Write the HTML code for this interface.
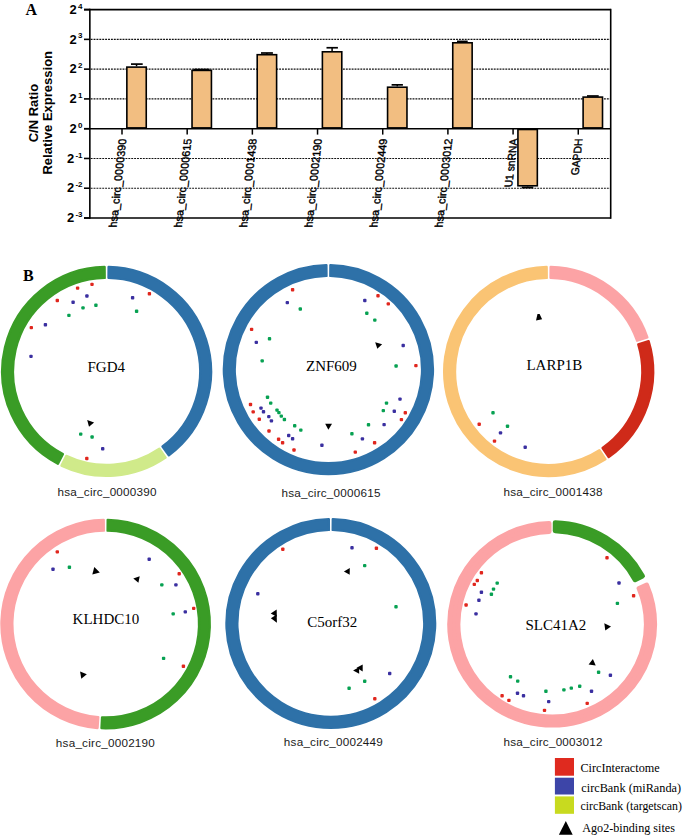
<!DOCTYPE html>
<html><head><meta charset="utf-8"><title>Figure</title>
<style>
html,body{margin:0;padding:0;background:#fff;}
body{width:685px;height:836px;overflow:hidden;font-family:"Liberation Sans", sans-serif;}
svg{display:block;}
</style></head>
<body>
<svg width="685" height="836" viewBox="0 0 685 836">
<rect x="0" y="0" width="685" height="836" fill="#fff"/>
<line x1="90.65" y1="39.37" x2="609.90" y2="39.37" stroke="#111" stroke-width="1.15" stroke-dasharray="1.9 1"/>
<line x1="90.65" y1="69.14" x2="609.90" y2="69.14" stroke="#111" stroke-width="1.15" stroke-dasharray="1.9 1"/>
<line x1="90.65" y1="98.91" x2="609.90" y2="98.91" stroke="#111" stroke-width="1.15" stroke-dasharray="1.9 1"/>
<line x1="90.65" y1="158.46" x2="609.90" y2="158.46" stroke="#111" stroke-width="1.15" stroke-dasharray="1.9 1"/>
<line x1="90.65" y1="188.23" x2="609.90" y2="188.23" stroke="#111" stroke-width="1.15" stroke-dasharray="1.9 1"/>
<rect x="126.85" y="67.10" width="19.40" height="60.79" fill="#f2be81" stroke="#000" stroke-width="1.6"/>
<line x1="131.00" y1="64.10" x2="142.70" y2="64.10" stroke="#000" stroke-width="1.7"/>
<line x1="136.55" y1="64.10" x2="136.55" y2="66.30" stroke="#000" stroke-width="1.5"/>
<rect x="192.03" y="70.40" width="19.40" height="57.49" fill="#f2be81" stroke="#000" stroke-width="1.6"/>
<line x1="193.70" y1="69.50" x2="209.40" y2="69.50" stroke="#000" stroke-width="1.7"/>
<line x1="201.73" y1="69.50" x2="201.73" y2="69.60" stroke="#000" stroke-width="1.5"/>
<rect x="257.21" y="54.70" width="19.40" height="73.19" fill="#f2be81" stroke="#000" stroke-width="1.6"/>
<line x1="261.00" y1="53.00" x2="272.90" y2="53.00" stroke="#000" stroke-width="1.7"/>
<line x1="266.91" y1="53.00" x2="266.91" y2="53.90" stroke="#000" stroke-width="1.5"/>
<rect x="322.39" y="51.80" width="19.40" height="76.09" fill="#f2be81" stroke="#000" stroke-width="1.6"/>
<line x1="326.50" y1="47.75" x2="337.90" y2="47.75" stroke="#000" stroke-width="1.7"/>
<line x1="332.09" y1="47.75" x2="332.09" y2="51.00" stroke="#000" stroke-width="1.5"/>
<rect x="387.57" y="87.20" width="19.40" height="40.69" fill="#f2be81" stroke="#000" stroke-width="1.6"/>
<line x1="391.60" y1="84.85" x2="402.90" y2="84.85" stroke="#000" stroke-width="1.7"/>
<line x1="397.27" y1="84.85" x2="397.27" y2="86.40" stroke="#000" stroke-width="1.5"/>
<rect x="452.75" y="42.80" width="19.40" height="85.09" fill="#f2be81" stroke="#000" stroke-width="1.6"/>
<line x1="457.00" y1="41.40" x2="467.70" y2="41.40" stroke="#000" stroke-width="1.7"/>
<line x1="462.45" y1="41.40" x2="462.45" y2="42.00" stroke="#000" stroke-width="1.5"/>
<rect x="517.93" y="129.49" width="19.40" height="56.31" fill="#f2be81" stroke="#000" stroke-width="1.6"/>
<line x1="521.80" y1="187.50" x2="533.30" y2="187.50" stroke="#000" stroke-width="1.9"/>
<line x1="527.63" y1="187.50" x2="527.63" y2="186.60" stroke="#000" stroke-width="1.5"/>
<rect x="583.11" y="97.10" width="19.40" height="30.79" fill="#f2be81" stroke="#000" stroke-width="1.6"/>
<line x1="587.00" y1="96.00" x2="598.70" y2="96.00" stroke="#000" stroke-width="1.7"/>
<line x1="592.81" y1="96.00" x2="592.81" y2="96.30" stroke="#000" stroke-width="1.5"/>
<line x1="84" y1="9.60" x2="610.70" y2="9.60" stroke="#000" stroke-width="1.6"/>
<line x1="84" y1="218.00" x2="610.70" y2="218.00" stroke="#000" stroke-width="1.6"/>
<line x1="84" y1="128.69" x2="610.70" y2="128.69" stroke="#000" stroke-width="1.6"/>
<line x1="89.85" y1="8.80" x2="89.85" y2="218.80" stroke="#000" stroke-width="1.6"/>
<line x1="610.70" y1="8.80" x2="610.70" y2="218.80" stroke="#000" stroke-width="1.6"/>
<line x1="84" y1="218.00" x2="89.85" y2="218.00" stroke="#000" stroke-width="1.6"/>
<text x="82.5" y="222.20" text-anchor="end" font-family='"Liberation Sans", sans-serif' font-weight="bold" font-size="13">2<tspan dx="1.2" dy="-5.1" font-size="8">-3</tspan></text>
<line x1="84" y1="188.23" x2="89.85" y2="188.23" stroke="#000" stroke-width="1.6"/>
<text x="82.5" y="192.43" text-anchor="end" font-family='"Liberation Sans", sans-serif' font-weight="bold" font-size="13">2<tspan dx="1.2" dy="-5.1" font-size="8">-2</tspan></text>
<line x1="84" y1="158.46" x2="89.85" y2="158.46" stroke="#000" stroke-width="1.6"/>
<text x="82.5" y="162.66" text-anchor="end" font-family='"Liberation Sans", sans-serif' font-weight="bold" font-size="13">2<tspan dx="1.2" dy="-5.1" font-size="8">-1</tspan></text>
<line x1="84" y1="128.69" x2="89.85" y2="128.69" stroke="#000" stroke-width="1.6"/>
<text x="82.5" y="132.89" text-anchor="end" font-family='"Liberation Sans", sans-serif' font-weight="bold" font-size="13">2<tspan dx="1.2" dy="-5.1" font-size="8">0</tspan></text>
<line x1="84" y1="98.91" x2="89.85" y2="98.91" stroke="#000" stroke-width="1.6"/>
<text x="82.5" y="103.11" text-anchor="end" font-family='"Liberation Sans", sans-serif' font-weight="bold" font-size="13">2<tspan dx="1.2" dy="-5.1" font-size="8">1</tspan></text>
<line x1="84" y1="69.14" x2="89.85" y2="69.14" stroke="#000" stroke-width="1.6"/>
<text x="82.5" y="73.34" text-anchor="end" font-family='"Liberation Sans", sans-serif' font-weight="bold" font-size="13">2<tspan dx="1.2" dy="-5.1" font-size="8">2</tspan></text>
<line x1="84" y1="39.37" x2="89.85" y2="39.37" stroke="#000" stroke-width="1.6"/>
<text x="82.5" y="43.57" text-anchor="end" font-family='"Liberation Sans", sans-serif' font-weight="bold" font-size="13">2<tspan dx="1.2" dy="-5.1" font-size="8">3</tspan></text>
<line x1="84" y1="9.60" x2="89.85" y2="9.60" stroke="#000" stroke-width="1.6"/>
<text x="82.5" y="13.80" text-anchor="end" font-family='"Liberation Sans", sans-serif' font-weight="bold" font-size="13">2<tspan dx="1.2" dy="-5.1" font-size="8">4</tspan></text>
<line x1="122.00" y1="128.69" x2="122.00" y2="134.6" stroke="#000" stroke-width="1.5"/>
<line x1="187.18" y1="128.69" x2="187.18" y2="134.6" stroke="#000" stroke-width="1.5"/>
<line x1="252.36" y1="128.69" x2="252.36" y2="134.6" stroke="#000" stroke-width="1.5"/>
<line x1="317.54" y1="128.69" x2="317.54" y2="134.6" stroke="#000" stroke-width="1.5"/>
<line x1="382.72" y1="128.69" x2="382.72" y2="134.6" stroke="#000" stroke-width="1.5"/>
<line x1="447.90" y1="128.69" x2="447.90" y2="134.6" stroke="#000" stroke-width="1.5"/>
<line x1="513.08" y1="128.69" x2="513.08" y2="134.6" stroke="#000" stroke-width="1.5"/>
<line x1="578.26" y1="128.69" x2="578.26" y2="134.6" stroke="#000" stroke-width="1.5"/>
<text transform="matrix(0.1089,-0.9900,1,0,126.40,138.60)" text-anchor="end" font-family='"Liberation Sans", sans-serif' font-weight="normal" font-size="11.0" stroke="#000" stroke-width="0.4">hsa_circ_0000390</text>
<text transform="matrix(0.1089,-0.9900,1,0,191.58,138.60)" text-anchor="end" font-family='"Liberation Sans", sans-serif' font-weight="normal" font-size="11.0" stroke="#000" stroke-width="0.4">hsa_circ_0000615</text>
<text transform="matrix(0.1089,-0.9900,1,0,256.76,138.60)" text-anchor="end" font-family='"Liberation Sans", sans-serif' font-weight="normal" font-size="11.0" stroke="#000" stroke-width="0.4">hsa_circ_0001438</text>
<text transform="matrix(0.1089,-0.9900,1,0,321.94,138.60)" text-anchor="end" font-family='"Liberation Sans", sans-serif' font-weight="normal" font-size="11.0" stroke="#000" stroke-width="0.4">hsa_circ_0002190</text>
<text transform="matrix(0.1089,-0.9900,1,0,387.12,138.60)" text-anchor="end" font-family='"Liberation Sans", sans-serif' font-weight="normal" font-size="11.0" stroke="#000" stroke-width="0.4">hsa_circ_0002449</text>
<text transform="matrix(0.1089,-0.9900,1,0,452.30,138.60)" text-anchor="end" font-family='"Liberation Sans", sans-serif' font-weight="normal" font-size="11.0" stroke="#000" stroke-width="0.4">hsa_circ_0003012</text>
<text transform="matrix(0.1034,-0.9400,1,0,517.48,138.60)" text-anchor="end" font-family='"Liberation Sans", sans-serif' font-weight="normal" font-size="11.0" stroke="#000" stroke-width="0.4">U1 snRNA</text>
<text transform="matrix(0.1034,-0.9400,1,0,582.66,138.60)" text-anchor="end" font-family='"Liberation Sans", sans-serif' font-weight="normal" font-size="11.0" stroke="#000" stroke-width="0.4">GAPDH</text>
<text transform="translate(38.4,113.1) rotate(-90)" text-anchor="middle" font-family='"Liberation Sans", sans-serif' font-weight="bold" font-size="13">C/N Ratio</text>
<text transform="translate(51.8,112.75) rotate(-90)" text-anchor="middle" font-family='"Liberation Sans", sans-serif' font-weight="bold" font-size="13">Relative Expression</text>
<text x="25.6" y="14.6" font-family='"Liberation Serif", serif' font-weight="bold" font-size="16">A</text>
<text x="22.9" y="280.7" font-family='"Liberation Serif", serif' font-weight="bold" font-size="16">B</text>
<path d="M108.62,267.07 A104.40,104.40 0 0 1 168.86,455.25 L162.52,446.51 A93.60,93.60 0 0 0 108.53,277.87 Z" fill="#2e71a8" stroke="#2e71a8" stroke-width="2.40" stroke-linejoin="round"/>
<path d="M165.57,457.60 A104.40,104.40 0 0 1 61.50,465.61 L66.28,455.92 A93.60,93.60 0 0 0 159.37,448.76 Z" fill="#d0ea8a" stroke="#d0ea8a" stroke-width="2.40" stroke-linejoin="round"/>
<path d="M57.90,463.79 A104.40,104.40 0 0 1 104.58,267.07 L104.67,277.87 A93.60,93.60 0 0 0 62.82,454.18 Z" fill="#3a9c26" stroke="#3a9c26" stroke-width="2.40" stroke-linejoin="round"/>
<text x="106.30" y="372.00" text-anchor="middle" font-family='"Liberation Serif", serif' font-size="15">FGD4</text>
<text x="107.05" y="496.00" text-anchor="middle" font-family='"Liberation Sans", sans-serif' font-size="11.7" fill="#1a1a1a" textLength="99" lengthAdjust="spacing">hsa_circ_0000390</text>
<path d="M330.42,265.12 A104.50,104.50 0 1 1 326.38,265.12 L326.46,275.92 A93.70,93.70 0 1 0 330.34,275.92 Z" fill="#2e71a8" stroke="#2e71a8" stroke-width="2.40" stroke-linejoin="round"/>
<text x="331.45" y="371.40" text-anchor="middle" font-family='"Liberation Serif", serif' font-size="15">ZNF609</text>
<text x="331.00" y="496.60" text-anchor="middle" font-family='"Liberation Sans", sans-serif' font-size="11.7" fill="#1a1a1a" textLength="99" lengthAdjust="spacing">hsa_circ_0000615</text>
<path d="M550.67,267.07 A104.45,104.45 0 0 1 647.34,337.31 L637.10,340.73 A93.65,93.65 0 0 0 550.59,277.87 Z" fill="#fca3a5" stroke="#fca3a5" stroke-width="2.40" stroke-linejoin="round"/>
<path d="M648.59,341.15 A104.45,104.45 0 0 1 608.72,456.95 L602.61,448.04 A93.65,93.65 0 0 0 638.30,344.41 Z" fill="#cf2a19" stroke="#cf2a19" stroke-width="2.40" stroke-linejoin="round"/>
<path d="M605.37,459.21 A104.45,104.45 0 1 1 546.63,267.07 L546.71,277.87 A93.65,93.65 0 1 0 599.40,450.21 Z" fill="#fac474" stroke="#fac474" stroke-width="2.40" stroke-linejoin="round"/>
<text x="554.35" y="369.60" text-anchor="middle" font-family='"Liberation Serif", serif' font-size="14" textLength="55.8" lengthAdjust="spacingAndGlyphs">LARP1B</text>
<text x="552.90" y="495.60" text-anchor="middle" font-family='"Liberation Sans", sans-serif' font-size="11.7" fill="#1a1a1a" textLength="99" lengthAdjust="spacing">hsa_circ_0001438</text>
<path d="M107.72,519.87 A104.20,104.20 0 1 1 101.54,728.17 L102.09,717.38 A93.40,93.40 0 1 0 107.63,530.67 Z" fill="#3a9c26" stroke="#3a9c26" stroke-width="2.40" stroke-linejoin="round"/>
<path d="M97.51,727.93 A104.20,104.20 0 0 1 103.68,519.87 L103.77,530.67 A93.40,93.40 0 0 0 98.23,717.15 Z" fill="#fca3a5" stroke="#fca3a5" stroke-width="2.40" stroke-linejoin="round"/>
<text x="105.90" y="624.30" text-anchor="middle" font-family='"Liberation Serif", serif' font-size="15">KLHDC10</text>
<text x="105.35" y="746.80" text-anchor="middle" font-family='"Liberation Sans", sans-serif' font-size="11.7" fill="#1a1a1a" textLength="99" lengthAdjust="spacing">hsa_circ_0002190</text>
<path d="M332.82,519.12 A104.30,104.30 0 1 1 328.78,519.12 L328.87,529.92 A93.50,93.50 0 1 0 332.73,529.92 Z" fill="#2e71a8" stroke="#2e71a8" stroke-width="2.40" stroke-linejoin="round"/>
<text x="332.35" y="626.90" text-anchor="middle" font-family='"Liberation Serif", serif' font-size="15">C5orf32</text>
<text x="333.35" y="746.40" text-anchor="middle" font-family='"Liberation Sans", sans-serif' font-size="11.7" fill="#1a1a1a" textLength="99" lengthAdjust="spacing">hsa_circ_0002449</text>
<g transform="translate(552.15,623.85) scale(1,0.9886) translate(-552.15,-623.85)">
<path d="M555.18,521.34 A102.55,102.55 0 0 1 642.58,575.48 L635.08,579.27 A94.15,94.15 0 0 0 555.12,529.75 Z" fill="#3a9c26" stroke="#3a9c26" stroke-width="4.80" stroke-linejoin="round"/>
</g>
<g transform="translate(552.15,624.25) scale(1,0.9848) translate(-552.15,-624.25)">
<path d="M646.65,584.41 A102.55,102.55 0 1 1 549.12,521.74 L549.18,530.15 A94.15,94.15 0 1 0 638.98,587.86 Z" fill="#fca3a5" stroke="#fca3a5" stroke-width="4.80" stroke-linejoin="round"/>
</g>
<text x="555.80" y="629.80" text-anchor="middle" font-family='"Liberation Serif", serif' font-size="15">SLC41A2</text>
<text x="553.05" y="745.70" text-anchor="middle" font-family='"Liberation Sans", sans-serif' font-size="11.7" fill="#1a1a1a" textLength="99" lengthAdjust="spacing">hsa_circ_0003012</text>
<rect x="90.30" y="282.70" width="3.4" height="3.4" rx="1" fill="#e0261d"/>
<rect x="75.90" y="286.40" width="3.4" height="3.4" rx="1" fill="#e0261d"/>
<rect x="85.20" y="294.30" width="3.4" height="3.4" rx="1" fill="#3a2fa0"/>
<rect x="55.60" y="298.80" width="3.4" height="3.4" rx="1" fill="#e0261d"/>
<rect x="71.40" y="300.50" width="3.4" height="3.4" rx="1" fill="#3a2fa0"/>
<rect x="81.30" y="306.20" width="3.4" height="3.4" rx="1" fill="#07a152"/>
<rect x="94.20" y="303.60" width="3.4" height="3.4" rx="1" fill="#07a152"/>
<rect x="67.20" y="313.70" width="3.4" height="3.4" rx="1" fill="#07a152"/>
<rect x="29.60" y="325.90" width="3.4" height="3.4" rx="1" fill="#e0261d"/>
<rect x="43.70" y="323.00" width="3.4" height="3.4" rx="1" fill="#3a2fa0"/>
<rect x="29.30" y="354.70" width="3.4" height="3.4" rx="1" fill="#3a2fa0"/>
<rect x="130.90" y="296.00" width="3.4" height="3.4" rx="1" fill="#3a2fa0"/>
<rect x="147.70" y="292.10" width="3.4" height="3.4" rx="1" fill="#e0261d"/>
<rect x="134.90" y="309.60" width="3.4" height="3.4" rx="1" fill="#07a152"/>
<rect x="79.00" y="432.40" width="3.4" height="3.4" rx="1" fill="#07a152"/>
<rect x="90.40" y="435.30" width="3.4" height="3.4" rx="1" fill="#07a152"/>
<rect x="101.00" y="447.10" width="3.4" height="3.4" rx="1" fill="#3a2fa0"/>
<rect x="85.10" y="456.80" width="3.4" height="3.4" rx="1" fill="#e0261d"/>
<rect x="290.90" y="288.10" width="3.4" height="3.4" rx="1" fill="#e0261d"/>
<rect x="285.60" y="300.90" width="3.4" height="3.4" rx="1" fill="#3a2fa0"/>
<rect x="298.60" y="307.30" width="3.4" height="3.4" rx="1" fill="#07a152"/>
<rect x="249.90" y="327.70" width="3.4" height="3.4" rx="1" fill="#e0261d"/>
<rect x="267.80" y="337.00" width="3.4" height="3.4" rx="1" fill="#07a152"/>
<rect x="254.60" y="340.70" width="3.4" height="3.4" rx="1" fill="#3a2fa0"/>
<rect x="260.50" y="359.20" width="3.4" height="3.4" rx="1" fill="#07a152"/>
<rect x="376.30" y="294.00" width="3.4" height="3.4" rx="1" fill="#e0261d"/>
<rect x="363.10" y="298.80" width="3.4" height="3.4" rx="1" fill="#3a2fa0"/>
<rect x="386.60" y="302.20" width="3.4" height="3.4" rx="1" fill="#e0261d"/>
<rect x="365.10" y="311.50" width="3.4" height="3.4" rx="1" fill="#07a152"/>
<rect x="373.10" y="318.40" width="3.4" height="3.4" rx="1" fill="#07a152"/>
<rect x="401.50" y="343.80" width="3.4" height="3.4" rx="1" fill="#3a2fa0"/>
<rect x="394.40" y="364.30" width="3.4" height="3.4" rx="1" fill="#07a152"/>
<rect x="414.20" y="363.90" width="3.4" height="3.4" rx="1" fill="#e0261d"/>
<rect x="265.80" y="395.60" width="3.4" height="3.4" rx="1" fill="#07a152"/>
<rect x="269.00" y="401.40" width="3.4" height="3.4" rx="1" fill="#07a152"/>
<rect x="248.80" y="402.80" width="3.4" height="3.4" rx="1" fill="#e0261d"/>
<rect x="259.30" y="406.40" width="3.4" height="3.4" rx="1" fill="#3a2fa0"/>
<rect x="251.50" y="410.20" width="3.4" height="3.4" rx="1" fill="#e0261d"/>
<rect x="261.80" y="410.10" width="3.4" height="3.4" rx="1" fill="#3a2fa0"/>
<rect x="275.30" y="408.40" width="3.4" height="3.4" rx="1" fill="#07a152"/>
<rect x="277.20" y="410.90" width="3.4" height="3.4" rx="1" fill="#07a152"/>
<rect x="279.60" y="414.40" width="3.4" height="3.4" rx="1" fill="#07a152"/>
<rect x="282.70" y="417.80" width="3.4" height="3.4" rx="1" fill="#07a152"/>
<rect x="267.10" y="414.90" width="3.4" height="3.4" rx="1" fill="#3a2fa0"/>
<rect x="269.70" y="419.20" width="3.4" height="3.4" rx="1" fill="#3a2fa0"/>
<rect x="257.60" y="417.60" width="3.4" height="3.4" rx="1" fill="#e0261d"/>
<rect x="293.00" y="424.00" width="3.4" height="3.4" rx="1" fill="#07a152"/>
<rect x="299.10" y="428.40" width="3.4" height="3.4" rx="1" fill="#07a152"/>
<rect x="267.30" y="429.30" width="3.4" height="3.4" rx="1" fill="#e0261d"/>
<rect x="287.00" y="433.80" width="3.4" height="3.4" rx="1" fill="#3a2fa0"/>
<rect x="290.90" y="437.00" width="3.4" height="3.4" rx="1" fill="#3a2fa0"/>
<rect x="276.90" y="437.50" width="3.4" height="3.4" rx="1" fill="#e0261d"/>
<rect x="280.90" y="441.00" width="3.4" height="3.4" rx="1" fill="#e0261d"/>
<rect x="292.30" y="448.30" width="3.4" height="3.4" rx="1" fill="#e0261d"/>
<rect x="320.20" y="443.60" width="3.4" height="3.4" rx="1" fill="#3a2fa0"/>
<rect x="398.30" y="397.40" width="3.4" height="3.4" rx="1" fill="#3a2fa0"/>
<rect x="384.80" y="401.40" width="3.4" height="3.4" rx="1" fill="#07a152"/>
<rect x="381.60" y="408.90" width="3.4" height="3.4" rx="1" fill="#07a152"/>
<rect x="392.60" y="409.60" width="3.4" height="3.4" rx="1" fill="#3a2fa0"/>
<rect x="403.60" y="411.00" width="3.4" height="3.4" rx="1" fill="#e0261d"/>
<rect x="399.70" y="417.90" width="3.4" height="3.4" rx="1" fill="#e0261d"/>
<rect x="366.80" y="423.10" width="3.4" height="3.4" rx="1" fill="#07a152"/>
<rect x="382.40" y="422.90" width="3.4" height="3.4" rx="1" fill="#3a2fa0"/>
<rect x="350.20" y="432.10" width="3.4" height="3.4" rx="1" fill="#07a152"/>
<rect x="360.70" y="437.20" width="3.4" height="3.4" rx="1" fill="#3a2fa0"/>
<rect x="372.90" y="441.00" width="3.4" height="3.4" rx="1" fill="#e0261d"/>
<rect x="353.60" y="450.40" width="3.4" height="3.4" rx="1" fill="#e0261d"/>
<rect x="491.30" y="411.10" width="3.4" height="3.4" rx="1" fill="#07a152"/>
<rect x="477.50" y="422.60" width="3.4" height="3.4" rx="1" fill="#e0261d"/>
<rect x="505.80" y="424.60" width="3.4" height="3.4" rx="1" fill="#07a152"/>
<rect x="498.80" y="431.20" width="3.4" height="3.4" rx="1" fill="#3a2fa0"/>
<rect x="492.80" y="439.40" width="3.4" height="3.4" rx="1" fill="#e0261d"/>
<rect x="523.50" y="445.50" width="3.4" height="3.4" rx="1" fill="#3a2fa0"/>
<rect x="55.60" y="550.20" width="3.4" height="3.4" rx="1" fill="#e0261d"/>
<rect x="51.30" y="567.60" width="3.4" height="3.4" rx="1" fill="#3a2fa0"/>
<rect x="67.70" y="565.60" width="3.4" height="3.4" rx="1" fill="#07a152"/>
<rect x="147.50" y="557.50" width="3.4" height="3.4" rx="1" fill="#3a2fa0"/>
<rect x="177.50" y="572.10" width="3.4" height="3.4" rx="1" fill="#e0261d"/>
<rect x="160.10" y="583.20" width="3.4" height="3.4" rx="1" fill="#07a152"/>
<rect x="174.20" y="583.20" width="3.4" height="3.4" rx="1" fill="#3a2fa0"/>
<rect x="192.00" y="606.70" width="3.4" height="3.4" rx="1" fill="#e0261d"/>
<rect x="183.60" y="610.20" width="3.4" height="3.4" rx="1" fill="#3a2fa0"/>
<rect x="171.50" y="612.20" width="3.4" height="3.4" rx="1" fill="#07a152"/>
<rect x="161.90" y="656.70" width="3.4" height="3.4" rx="1" fill="#07a152"/>
<rect x="181.70" y="664.50" width="3.4" height="3.4" rx="1" fill="#e0261d"/>
<rect x="281.10" y="547.60" width="3.4" height="3.4" rx="1" fill="#e0261d"/>
<rect x="256.10" y="592.10" width="3.4" height="3.4" rx="1" fill="#3a2fa0"/>
<rect x="350.30" y="546.00" width="3.4" height="3.4" rx="1" fill="#3a2fa0"/>
<rect x="374.70" y="546.50" width="3.4" height="3.4" rx="1" fill="#e0261d"/>
<rect x="363.00" y="563.90" width="3.4" height="3.4" rx="1" fill="#07a152"/>
<rect x="394.30" y="605.10" width="3.4" height="3.4" rx="1" fill="#07a152"/>
<rect x="388.00" y="671.80" width="3.4" height="3.4" rx="1" fill="#3a2fa0"/>
<rect x="363.00" y="679.50" width="3.4" height="3.4" rx="1" fill="#07a152"/>
<rect x="347.40" y="686.60" width="3.4" height="3.4" rx="1" fill="#07a152"/>
<rect x="373.10" y="697.00" width="3.4" height="3.4" rx="1" fill="#e0261d"/>
<rect x="605.30" y="556.10" width="3.4" height="3.4" rx="1" fill="#e0261d"/>
<rect x="617.30" y="581.30" width="3.4" height="3.4" rx="1" fill="#3a2fa0"/>
<rect x="631.90" y="594.10" width="3.4" height="3.4" rx="1" fill="#e0261d"/>
<rect x="615.70" y="601.70" width="3.4" height="3.4" rx="1" fill="#07a152"/>
<rect x="479.70" y="571.10" width="3.4" height="3.4" rx="1" fill="#e0261d"/>
<rect x="475.60" y="578.80" width="3.4" height="3.4" rx="1" fill="#e0261d"/>
<rect x="472.60" y="582.70" width="3.4" height="3.4" rx="1" fill="#e0261d"/>
<rect x="495.50" y="581.40" width="3.4" height="3.4" rx="1" fill="#07a152"/>
<rect x="491.80" y="587.40" width="3.4" height="3.4" rx="1" fill="#07a152"/>
<rect x="489.70" y="592.50" width="3.4" height="3.4" rx="1" fill="#07a152"/>
<rect x="479.70" y="590.60" width="3.4" height="3.4" rx="1" fill="#3a2fa0"/>
<rect x="477.20" y="598.50" width="3.4" height="3.4" rx="1" fill="#3a2fa0"/>
<rect x="464.40" y="603.30" width="3.4" height="3.4" rx="1" fill="#e0261d"/>
<rect x="474.30" y="612.20" width="3.4" height="3.4" rx="1" fill="#3a2fa0"/>
<rect x="596.90" y="670.50" width="3.4" height="3.4" rx="1" fill="#07a152"/>
<rect x="608.70" y="673.60" width="3.4" height="3.4" rx="1" fill="#3a2fa0"/>
<rect x="508.80" y="675.00" width="3.4" height="3.4" rx="1" fill="#07a152"/>
<rect x="516.00" y="679.40" width="3.4" height="3.4" rx="1" fill="#07a152"/>
<rect x="578.00" y="684.50" width="3.4" height="3.4" rx="1" fill="#07a152"/>
<rect x="569.60" y="686.40" width="3.4" height="3.4" rx="1" fill="#07a152"/>
<rect x="562.20" y="688.20" width="3.4" height="3.4" rx="1" fill="#07a152"/>
<rect x="544.20" y="689.60" width="3.4" height="3.4" rx="1" fill="#07a152"/>
<rect x="589.80" y="689.60" width="3.4" height="3.4" rx="1" fill="#3a2fa0"/>
<rect x="515.80" y="691.50" width="3.4" height="3.4" rx="1" fill="#3a2fa0"/>
<rect x="521.80" y="694.10" width="3.4" height="3.4" rx="1" fill="#3a2fa0"/>
<rect x="500.40" y="694.00" width="3.4" height="3.4" rx="1" fill="#e0261d"/>
<rect x="507.20" y="698.70" width="3.4" height="3.4" rx="1" fill="#e0261d"/>
<rect x="547.00" y="699.90" width="3.4" height="3.4" rx="1" fill="#3a2fa0"/>
<rect x="585.50" y="701.70" width="3.4" height="3.4" rx="1" fill="#e0261d"/>
<rect x="542.80" y="708.70" width="3.4" height="3.4" rx="1" fill="#e0261d"/>
<path d="M87.20,420.10 L94.10,422.50 L89.00,426.80 Z" fill="#000"/>
<path d="M375.20,342.20 L382.10,344.30 L377.30,348.80 Z" fill="#000"/>
<path d="M325.20,423.70 L332.00,423.70 L328.40,429.80 Z" fill="#000"/>
<path d="M537.50,313.90 L539.60,313.90 L542.10,319.20 L536.00,320.60 Z" fill="#000"/>
<path d="M94.30,567.10 L99.80,572.50 L92.30,574.60 Z" fill="#000"/>
<path d="M133.30,578.40 L139.70,576.20 L138.40,582.70 Z" fill="#000"/>
<path d="M80.10,671.40 L86.80,674.30 L81.30,678.70 Z" fill="#000"/>
<path d="M270.70,613.40 L276.70,609.60 L276.80,616.80 Z" fill="#000"/>
<path d="M270.90,618.30 L276.70,614.60 L276.90,622.80 Z" fill="#000"/>
<path d="M343.90,571.50 L349.80,568.10 L349.70,574.80 Z" fill="#000"/>
<path d="M356.60,667.70 L362.70,664.40 L362.70,671.40 Z" fill="#000"/>
<path d="M353.10,670.40 L359.00,667.30 L359.20,673.80 Z" fill="#000"/>
<path d="M604.30,623.30 L611.00,626.40 L605.30,630.60 Z" fill="#000"/>
<path d="M592.90,659.10 L595.70,665.60 L588.60,664.50 Z" fill="#000"/>
<rect x="554.9" y="758.0" width="19.1" height="17.7" fill="#df2a1f"/>
<rect x="554.9" y="777.7" width="19.1" height="16.8" fill="#3d45a8"/>
<rect x="554.9" y="796.4" width="19.1" height="17.4" fill="#c8da1f"/>
<path d="M565.8,821 L572.7,834.8 L558.9,834.8 Z" fill="#000"/>
<text x="580.4" y="772.3" font-family='"Liberation Serif", serif' font-size="12.3" textLength="79.3" lengthAdjust="spacingAndGlyphs">CircInteractome</text>
<text x="581.3" y="791.5" font-family='"Liberation Serif", serif' font-size="12.3" textLength="99.8" lengthAdjust="spacingAndGlyphs">circBank (miRanda)</text>
<text x="580.4" y="810.2" font-family='"Liberation Serif", serif' font-size="12.3" textLength="101.5" lengthAdjust="spacingAndGlyphs">circBank (targetscan)</text>
<text x="582.3" y="831.5" font-family='"Liberation Serif", serif' font-size="12.3" textLength="92.6" lengthAdjust="spacingAndGlyphs">Ago2-binding sites</text>
</svg>
</body></html>
